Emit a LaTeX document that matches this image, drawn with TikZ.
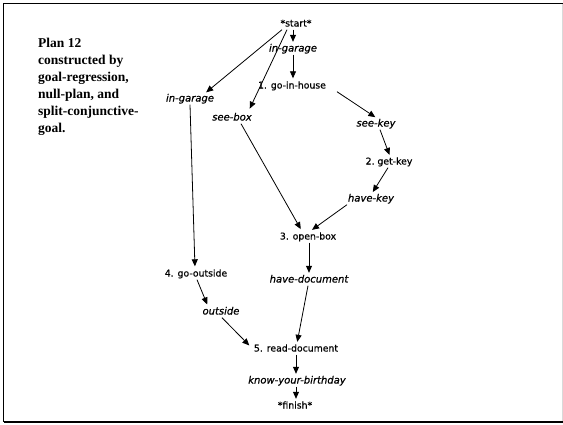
\documentclass[tikz,border=0pt]{standalone}
\usepackage{fontspec}
\setmainfont{Liberation Serif}
\newfontfamily\labelfont{DejaVu Sans}[FakeBold=0.7]
\usetikzlibrary{arrows.meta}

\tikzset{
  stepnode/.style={font=\labelfont\fontsize{9.3}{10}\selectfont, inner sep=1pt,
    text height=7pt, text depth=2pt},
  condnode/.style={stepnode, font=\labelfont\itshape\fontsize{10}{11}\selectfont},
  arr/.style={draw=black, line width=0.8pt,
    -{Triangle[length=7pt,width=6pt]}, shorten >=1.5pt},
  frameline/.style={line width=1.6pt, black},
}

\begin{document}
\begin{tikzpicture}[x=1pt, y=-1pt]
  \useasboundingbox (0,0) rectangle (563,424);
  \fill[white] (0,0) rectangle (563,424);

  % frame
  \draw[frameline] (3.6,422) -- (3.6,3.6) -- (563,3.6);
  \draw[frameline] (3.6,422) -- (563,422);
  \draw[line width=1pt, black!15] (562.4,4.4) -- (562.4,421.2);

  % caption
  \node[anchor=north west, inner sep=0pt, align=left,
        font=\bfseries\fontsize{13.5}{17}\selectfont] (caption) at (38,37.5)
    {Plan 12\\constructed by\\goal-regression,\\null-plan, and\\split-conjunctive-\\goal.};

  % plan steps and conditions
  \node[stepnode] (start)    at (296,24)  {*start*};
  \node[condnode] (igtop)    at (293,49)  {in-garage};
  \node[stepnode] (house)    at (292,86)  {1. go-in-house};
  \node[condnode] (igleft)   at (190,99)  {in-garage};
  \node[condnode] (seebox)   at (232,118) {see-box};
  \node[condnode] (seekey)   at (376,124) {see-key};
  \node[stepnode] (getkey)   at (389,162) {2.\ get-key};
  \node[condnode] (havekey)  at (371,199) {have-key};
  \node[stepnode] (openbox)  at (308,237) {3. open-box};
  \node[stepnode] (outstep)  at (196,274) {4. go-outside};
  \node[condnode] (havedoc)  at (309,280) {have-document};
  \node[condnode] (outside)  at (221,312) {outside};
  \node[stepnode] (readdoc)  at (296,349) {5. read-document};
  \node[condnode] (birthday) at (297,381) {know-your-birthday};
  \node[stepnode] (finish)   at (295,406) {*finish*};

  % links
  \draw[arr] ([xshift=-3pt]start.south) -- (igtop.north);
  \draw[arr] ([xshift=-14pt]start.south) -- ([xshift=15pt]igleft.north);
  \draw[arr, shorten >=4pt] ([xshift=-9pt]start.south) -- ([xshift=16pt]seebox.north);
  \draw[arr, shorten >=2pt] (igtop.south) -- ([xshift=1pt]house.north);
  \draw[arr, shorten >=2pt] ([xshift=45pt]house.south) -- ([xshift=1pt]seekey.north);
  \draw[arr] ([xshift=4pt]seekey.south) -- ([xshift=1pt]getkey.north);
  \draw[arr] ([xshift=-1pt]getkey.south) -- ([xshift=1pt]havekey.north);
  \draw[arr, shorten >=2.5pt] ([xshift=-24pt]havekey.south) -- ([xshift=2pt]openbox.north);
  \draw[arr, shorten >=2.5pt] ([xshift=9pt]seebox.south) -- ([xshift=-6pt]openbox.north);
  \draw[arr] ([xshift=1pt]openbox.south) -- (havedoc.north);
  \draw[arr, shorten >=2pt] (igleft.south) -- ([xshift=-1pt]outstep.north);
  \draw[arr, shorten >=2pt] ([xshift=1pt]outstep.south) -- ([xshift=-13pt]outside.north);
  \draw[arr, shorten >=5pt] ([xshift=1pt]outside.south) -- (readdoc.west);
  \draw[arr] ([xshift=-1pt]havedoc.south) -- ([xshift=1pt]readdoc.north);
  \draw[arr] (readdoc.south) -- ([xshift=-1pt]birthday.north);
  \draw[arr] ([xshift=-1pt]birthday.south) -- ([xshift=1pt]finish.north);
\end{tikzpicture}
\end{document}
